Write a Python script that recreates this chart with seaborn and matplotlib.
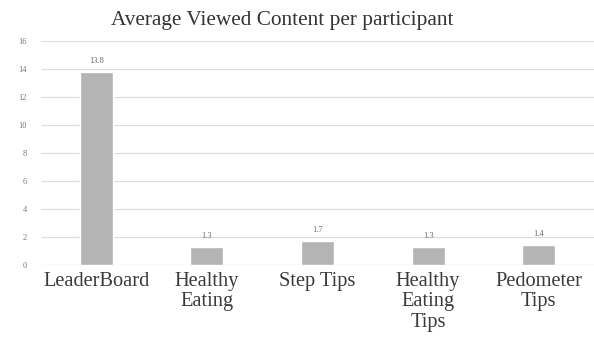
import matplotlib
matplotlib.use("Agg")
import matplotlib.pyplot as plt
import seaborn as sns
import pandas as pd

categories = ["LeaderBoard", "Healthy\nEating", "Step Tips", "Healthy\nEating\nTips", "Pedometer\nTips"]
values = [13.8, 1.3, 1.7, 1.3, 1.4]
value_labels = ["13.8", "1.3", "1.7", "1.3", "1.4"]
yticks = [0, 2, 4, 6, 8, 10, 12, 14, 16]

sns.set_theme(style="white")
plt.rcParams['font.family'] = ['Liberation Serif', 'DejaVu Serif']

df = pd.DataFrame({"cat": categories, "val": values})
fig = plt.figure(figsize=(5.94, 3.37), dpi=100)
ax = fig.add_axes([0.069, 0.214, 0.931, 0.665])
sns.barplot(data=df, x="cat", y="val", color="#b4b4b4", saturation=1, width=0.3, ax=ax, zorder=3)

ax.set_ylim(0, 16)
ax.set_yticks(yticks)
ax.set_yticklabels([str(t) for t in yticks], fontsize=6, color="#777777")
ax.grid(axis="y", color="#dedede", linewidth=0.9, zorder=0)
ax.set_axisbelow(True)
for s in ax.spines.values():
    s.set_visible(False)
ax.tick_params(axis="both", length=0)
ax.tick_params(axis="y", pad=10)
ax.tick_params(axis="x", pad=5)
ax.set_xticks(range(len(categories)))
ax.set_xticklabels(categories, fontsize=14.7, color="#3a3a3a", va="top", linespacing=1.1)
ax.set_xlabel("")
ax.set_ylabel("")
ax.set_xlim(-0.5, 4.5)

for i, (v, t) in enumerate(zip(values, value_labels)):
    ax.annotate(t, (i, v), xytext=(0, 5), textcoords="offset points", ha="center", va="bottom",
                fontsize=6, color="#666666")

fig.text(0.475, 0.94, "Average Viewed Content per participant", ha="center", va="center",
         fontsize=15.3, color="#333333")

fig.savefig("out.png", dpi=100)
